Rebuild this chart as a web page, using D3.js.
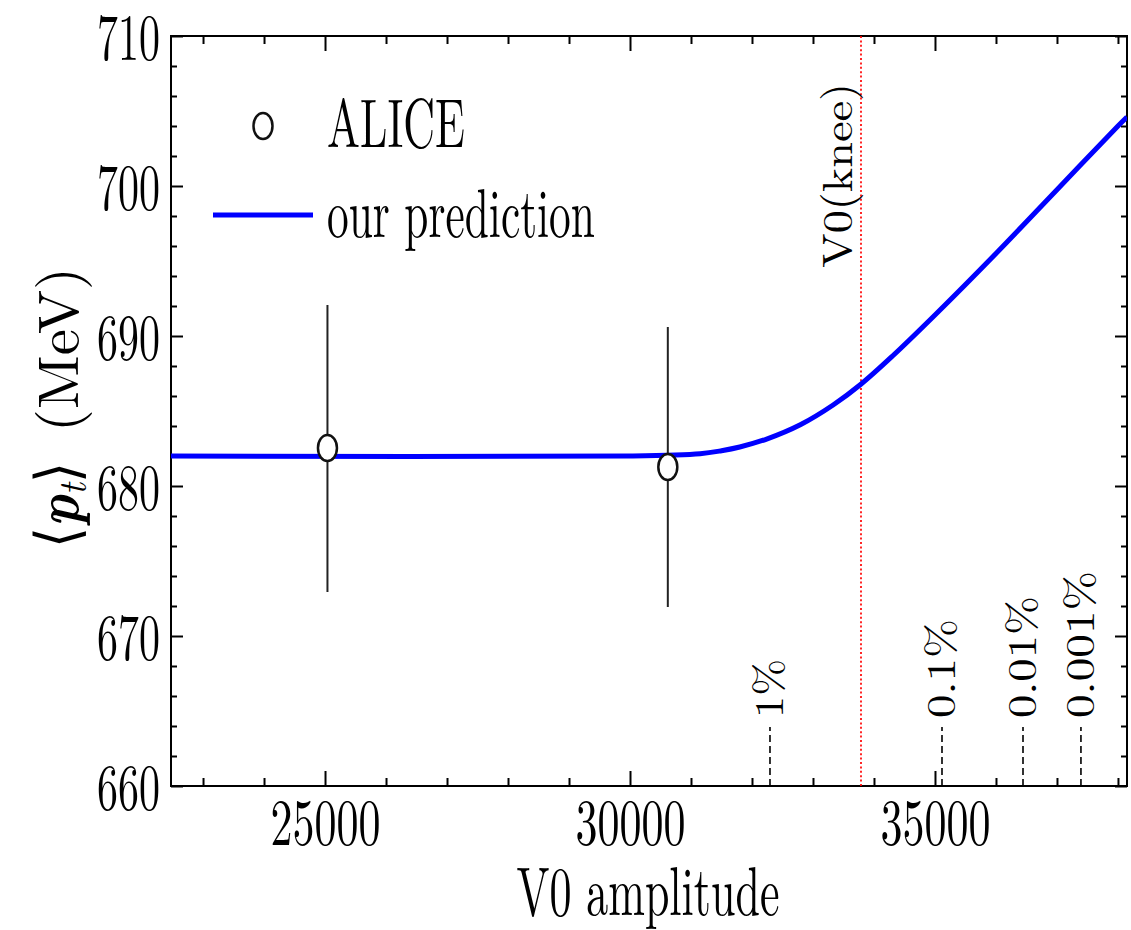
<!DOCTYPE html>
<html>
<head>
<meta charset="utf-8">
<script src="https://cdn.jsdelivr.net/npm/d3@7"></script>
<style>
  html, body { margin: 0; padding: 0; background: #fff; }
  svg { display: block; }
  text { font-family: "Latin Modern Roman", "Liberation Serif", serif; fill: #000; }
</style>
</head>
<body>
<svg id="chart" width="1131" height="930"></svg>
<script>
// ALICE points
const aliceV0 = [25040, 30620];
const aliceMean = [682.53, 681.27];
const aliceLow = [672.93, 671.93];
const aliceHigh = [692.07, 690.6];

// model curve
const predV0 = [22475, 30000, 31150, 31500, 31800, 32240, 32800, 33330, 33790, 34300, 35000, 36000, 37000, 38000, 38148];
const predPt = [682.0, 682.0, 682.15, 682.35, 682.6, 683.13, 684.1, 685.4, 686.8, 688.65, 691.4, 695.5, 699.75, 704.0, 704.6];

const kneeV0 = 33787;
const pctLabels = ["1%", "0.1%", "0.01%", "0.001%"];
const pctV0 = [32295, 35115, 36443, 37393];

const xMajor = [25000, 30000, 35000];
const xMinor = d3.range(23000, 38001, 1000).filter((v) => !xMajor.includes(v));
const yMajor = [660, 670, 680, 690, 700, 710];
const yMinor = d3.range(660, 711, 2).filter((v) => !yMajor.includes(v));

const plotL = 171, plotR = 1127, plotT = 36, plotB = 786;
const blue = "#0000ff";

const svg = d3.select("#chart");

const x = d3.scaleLinear().domain([22475, 38148]).range([plotL, plotR]);
const y = d3.scaleLinear().domain([660, 710]).range([plotB, plotT]);

svg.append("defs").append("clipPath").attr("id", "plot-clip")
    .append("rect")
    .attr("x", plotL).attr("y", plotT)
    .attr("width", plotR - plotL).attr("height", plotB - plotT);

// squeeze or stretch a text to a given width (the picture's serif is narrow)
function fitWidth(t, width) {
    let n = t.node().getComputedTextLength();
    let k = width / n;
    let xAttr = +t.attr("x") || 0;
    t.attr("x", xAttr / k).attr("transform", `scale(${k},1)`);
}

function label(txt, px, py, size, width, opts = {}) {
    let g = svg.append("g")
        .attr("transform", `translate(${px},${py})` + (opts.rotate ? ` rotate(${opts.rotate})` : ""));
    let t = g.append("text")
        .attr("font-size", size)
        .attr("text-anchor", opts.anchor || "start")
        .text(txt);
    fitWidth(t, width);
    return t;
}

// axes: ticks inward on all four sides
function ticks(axis, pos, values, size, withLabels) {
    let g = svg.append("g")
        .attr("transform", pos)
        .call(axis.tickValues(values).tickSizeInner(-size).tickSizeOuter(0)
            .tickFormat(withLabels ? d3.format("d") : ""));
    g.attr("font-family", null);
    g.select(".domain").remove();
    g.selectAll("line").attr("stroke", "#000").attr("stroke-width", 2);
    return g;
}

let xb = ticks(d3.axisBottom(x), `translate(0,${plotB})`, xMajor, 15, true);
ticks(d3.axisBottom(x), `translate(0,${plotB})`, xMinor, 8, false);
ticks(d3.axisTop(x), `translate(0,${plotT})`, xMajor, 15, false);
ticks(d3.axisTop(x), `translate(0,${plotT})`, xMinor, 8, false);
let yl = ticks(d3.axisLeft(y), `translate(${plotL},0)`, yMajor, 12, true);
ticks(d3.axisLeft(y), `translate(${plotL},0)`, yMinor, 6, false);
ticks(d3.axisRight(y), `translate(${plotR},0)`, yMajor, 12, false);
ticks(d3.axisRight(y), `translate(${plotR},0)`, yMinor, 6, false);

xb.selectAll("text")
    .attr("font-size", 66)
    .attr("fill", "#000")
    .attr("y", 59).attr("dy", 0)
    .each(function () { fitWidth(d3.select(this), 110); });

yl.selectAll("text")
    .attr("font-size", 66)
    .attr("fill", "#000")
    .attr("x", -11)
    .attr("y", 23).attr("dy", 0)
    .each(function () { fitWidth(d3.select(this), 63); });

// frame
svg.append("rect")
    .attr("x", plotL).attr("y", plotT)
    .attr("width", plotR - plotL).attr("height", plotB - plotT)
    .attr("fill", "none").attr("stroke", "#000").attr("stroke-width", 2);

// knee line
svg.append("line")
    .attr("x1", x(kneeV0)).attr("x2", x(kneeV0))
    .attr("y1", y(710)).attr("y2", y(660))
    .attr("stroke", "#ff0000").attr("stroke-width", 2)
    .attr("stroke-dasharray", "2,2.4").attr("opacity", 0.85);

label("V0(knee)", x(kneeV0) - 9, 268, 42, 185, { rotate: -90 });

// centrality markers
svg.selectAll("line.pct")
    .data(pctV0)
    .join("line")
    .attr("class", "pct")
    .attr("x1", (d) => x(d)).attr("x2", (d) => x(d))
    .attr("y1", y(660)).attr("y2", y(663.93))
    .attr("stroke", "#000").attr("stroke-width", 1.6)
    .attr("stroke-dasharray", "7,4");

const pctWidths = [59, 99, 122, 147];
pctLabels.forEach((s, i) => {
    label(s, x(pctV0[i]) + 13, 718, 41, pctWidths[i], { rotate: -90 });
});

// prediction
const line = d3.line()
    .x((d, i) => x(predV0[i]))
    .y((d, i) => y(predPt[i]))
    .curve(d3.curveCatmullRom.alpha(0.5));

svg.append("path")
    .datum(predV0)
    .attr("clip-path", "url(#plot-clip)")
    .attr("d", line)
    .attr("fill", "none")
    .attr("stroke", blue)
    .attr("stroke-width", 5);

// ALICE error bars and markers
svg.selectAll("line.err")
    .data(aliceV0)
    .join("line")
    .attr("class", "err")
    .attr("x1", (d) => x(d)).attr("x2", (d) => x(d))
    .attr("y1", (d, i) => y(aliceLow[i]))
    .attr("y2", (d, i) => y(aliceHigh[i]))
    .attr("stroke", "#222").attr("stroke-width", 2);

svg.selectAll("ellipse.pt")
    .data(aliceV0)
    .join("ellipse")
    .attr("class", "pt")
    .attr("cx", (d) => x(d))
    .attr("cy", (d, i) => y(aliceMean[i]))
    .attr("rx", 9.5).attr("ry", 13)
    .attr("fill", "#fff").attr("stroke", "#111").attr("stroke-width", 2.5);

// legend
svg.append("ellipse")
    .attr("cx", 263).attr("cy", 126)
    .attr("rx", 9.5).attr("ry", 13)
    .attr("fill", "#fff").attr("stroke", "#111").attr("stroke-width", 2.5);
label("ALICE", 327, 147, 69, 138);

svg.append("line")
    .attr("x1", 213).attr("x2", 313)
    .attr("y1", 215).attr("y2", 215)
    .attr("stroke", blue).attr("stroke-width", 5);
label("our prediction", 327, 237, 69, 268);

// axis titles
label("V0 amplitude", 648, 915, 69, 263, { anchor: "middle" });

label("(MeV)", 78, 432, 57, 165, { rotate: -90 });

let ptG = svg.append("g").attr("transform", "translate(78,548) rotate(-90)");
let pt = ptG.append("text").attr("font-size", 60);
pt.append("tspan").attr("font-family", "'DejaVu Serif', serif").attr("font-weight", "normal").text("\u27E8");
pt.append("tspan").attr("font-style", "italic").attr("font-weight", "bold").text("p");
pt.append("tspan").attr("font-style", "italic").attr("font-size", 40).attr("dy", 8).text("t");
pt.append("tspan").attr("font-family", "'DejaVu Serif', serif").attr("font-weight", "normal").attr("dy", -8).text("\u27E9");
fitWidth(pt, 86);
</script>
</body>
</html>
